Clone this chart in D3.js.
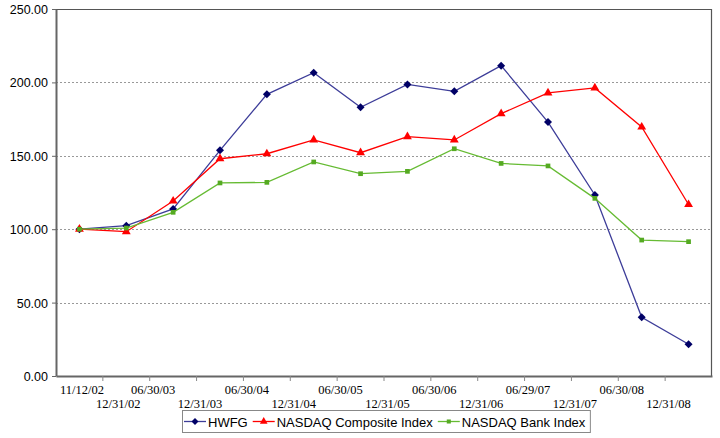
<!DOCTYPE html>
<html>
<head>
<meta charset="utf-8">
<script src="https://cdn.jsdelivr.net/npm/d3@7"></script>
<style>
  html, body { margin: 0; padding: 0; background: #fff; }
  svg { display: block; }
  .sans { font-family: "Liberation Sans", Arial, sans-serif; }
  .serif { font-family: "Liberation Serif", "Times New Roman", serif; }
</style>
</head>
<body>
<svg id="chart" width="720" height="438"></svg>
<script>
const categories = ["11/12/02","12/31/02","06/30/03","12/31/03","06/30/04","12/31/04","06/30/05","12/31/05","06/30/06","12/31/06","06/29/07","12/31/07","06/30/08","12/31/08"];
const hwfg = [100.0, 102.4, 113.8, 153.7, 191.9, 206.6, 183.0, 198.6, 193.9, 211.4, 173.0, 123.3, 40.0, 21.6];
const nasdaqComposite = [100.0, 98.3, 119.2, 148.0, 151.4, 160.8, 152.1, 163.0, 160.8, 178.7, 192.8, 196.2, 169.6, 116.8];
const nasdaqBank = [100.0, 100.8, 111.5, 131.5, 131.9, 145.8, 137.8, 139.4, 154.8, 144.8, 143.1, 121.0, 92.6, 91.5];
const yTicks = [0, 50, 100, 150, 200, 250];
const seriesNames = ["HWFG", "NASDAQ Composite Index", "NASDAQ Bank Index"];

const svg = d3.select("#chart");
const mLeft = 56, mRight = 712, mTop = 9, mBottom = 376;

const x = d3.scaleBand().domain(categories).range([mLeft, mRight]);
const y = d3.scaleLinear().domain([0, 250]).range([mBottom, mTop]);

// gridlines
svg.append("g").selectAll("line").data(yTicks.filter(d => d > 0 && d < 250)).join("line")
  .attr("x1", mLeft).attr("x2", mRight)
  .attr("y1", d => Math.round(y(d)) + 0.5).attr("y2", d => Math.round(y(d)) + 0.5)
  .attr("stroke", "#999").attr("stroke-width", 1).attr("stroke-dasharray", "2,2");

// frame (top/right)
svg.append("path")
  .attr("d", `M${mLeft},${mTop + 0.5}H${mRight - 0.5}V${mBottom}`)
  .attr("fill", "none").attr("stroke", "#555").attr("stroke-width", 1.2);

// y axis
const yAxis = d3.axisLeft(y).tickValues(yTicks).tickFormat(d3.format(".2f")).tickSize(4).tickSizeOuter(0);
const gy = svg.append("g").attr("transform", `translate(${mLeft},0)`).call(yAxis)
  .attr("font-family", null).attr("font-size", null).attr("class", "sans");
gy.select(".domain").attr("stroke", "#666").attr("stroke-width", 2);
gy.selectAll(".tick line").attr("stroke", "#666");
gy.selectAll(".tick text").style("font-size", "12.5px").attr("fill", "#000").attr("x", -8).attr("dy", "0.36em");

// x axis
const xAxis = d3.axisBottom(x).tickSize(0).tickSizeOuter(0).tickFormat("");
const gx = svg.append("g").attr("transform", `translate(0,${mBottom})`).call(xAxis);
gx.select(".domain").attr("stroke", "#666").attr("stroke-width", 2);
const boundaries = categories.slice(1).map(c => x(c));
gx.append("g").selectAll("line").data(boundaries).join("line")
  .attr("x1", d => d).attr("x2", d => d).attr("y1", 0).attr("y2", 5)
  .attr("stroke", "#888");

// staggered tick labels
const labG = svg.append("g").attr("class", "serif").style("font-size", "12.5px").attr("fill", "#000");
categories.forEach((c, i) => {
  const cx = x(c) + x.bandwidth() / 2;
  const t = labG.append("text").text(c).attr("y", i % 2 === 0 ? 394 : 408).attr("text-anchor", "middle");
  const w = t.node().getComputedTextLength();
  let pos = cx - 20;
  if (pos - w / 2 < mLeft + 4) pos = mLeft + 4 + w / 2;
  if (i === 1) pos = cx - 8;
  t.attr("x", pos);
});

const diamond = { draw(ctx, size) { const r = Math.sqrt(size / 2); ctx.moveTo(0, -r); ctx.lineTo(r, 0); ctx.lineTo(0, r); ctx.lineTo(-r, 0); ctx.closePath(); } };

const series = [
  { name: seriesNames[0], values: hwfg, line: "#3d3d99", marker: "#000066", shape: diamond, size: 32 },
  { name: seriesNames[1], values: nasdaqComposite, line: "#ff0000", marker: "#ff0000", shape: d3.symbolTriangle, size: 34 },
  { name: seriesNames[2], values: nasdaqBank, line: "#66bb33", marker: "#55aa22", shape: d3.symbolSquare, size: 22 }
];

const line = d3.line()
  .x((d, i) => x(categories[i]) + x.bandwidth() / 2)
  .y(d => y(d));

series.forEach(s => {
  svg.append("path").datum(s.values).attr("d", line)
    .attr("fill", "none").attr("stroke", s.line).attr("stroke-width", 1.3);
  svg.append("g").selectAll("path").data(s.values).join("path")
    .attr("transform", (d, i) => `translate(${x(categories[i]) + x.bandwidth() / 2},${y(d)})`)
    .attr("d", d3.symbol().type(s.shape).size(s.size))
    .attr("fill", s.marker);
});

// legend
const lg = svg.append("g");
const box = lg.append("rect").attr("x", 182.5).attr("y", 410.5).attr("height", 22)
  .attr("fill", "#fff").attr("stroke", "#888");
let lx = 184;
series.forEach(s => {
  lg.append("line").attr("x1", lx).attr("x2", lx + 22).attr("y1", 421.5).attr("y2", 421.5)
    .attr("stroke", s.line).attr("stroke-width", 1.3);
  lg.append("path").attr("transform", `translate(${lx + 11},421.5)`)
    .attr("d", d3.symbol().type(s.shape).size(s.size * 0.75)).attr("fill", s.marker);
  const t = lg.append("text").attr("x", lx + 24).attr("y", 426.5).text(s.name)
    .attr("class", "sans").style("font-size", "13px").attr("fill", "#000");
  lx += 24 + t.node().getComputedTextLength() + 5;
});
box.attr("width", lx - 182.5);
</script>
</body>
</html>
